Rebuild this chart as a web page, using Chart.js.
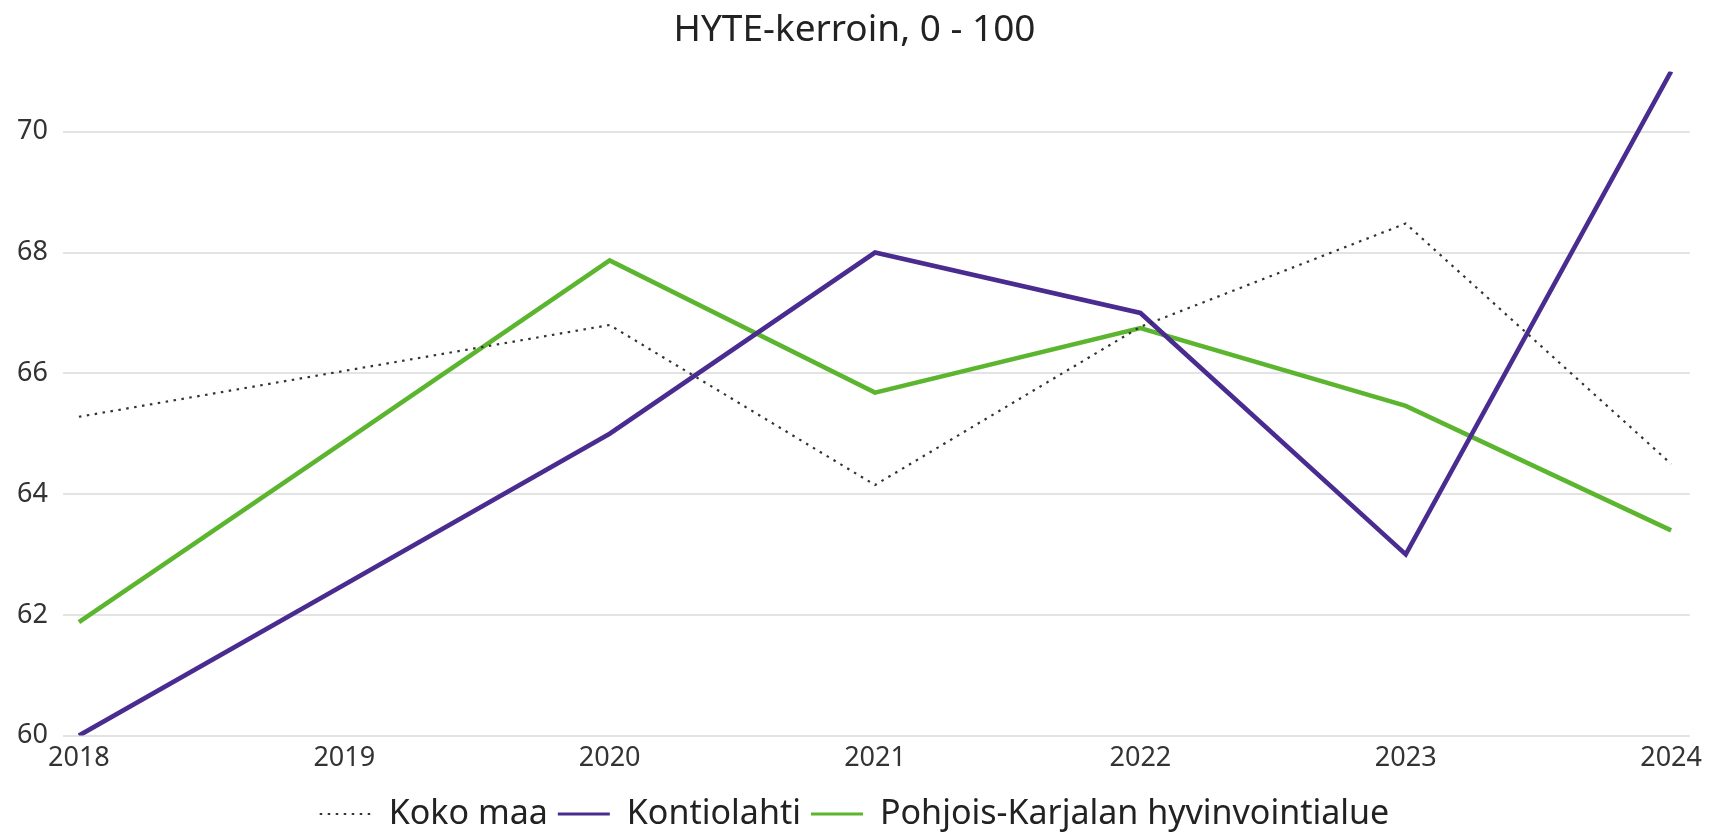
<!DOCTYPE html>
<html>
<head>
<meta charset="utf-8">
<script src="https://cdn.jsdelivr.net/npm/chart.js@4"></script>
<style>
  html, body { margin: 0; padding: 0; background: #fff; }
  .wrap { width: 1709px; height: 835px; position: relative; }
</style>
</head>
<body>
<div class="wrap"><canvas id="hyteChart"></canvas></div>
<script>
// data
const years = [2018, 2019, 2020, 2021, 2022, 2023, 2024];
const kokoMaa = [65.28, 66.04, 66.8, 64.15, 66.77, 68.48, 64.5];
const kontiolahti = [60.0, 62.5, 65.0, 68.0, 67.0, 63.0, 71.0];
const pohjoisKarjala = [61.88, 64.87, 67.87, 65.68, 66.75, 65.46, 63.4];
const yTicks = [60, 62, 64, 66, 68, 70];

const FONT = "'Noto Sans', 'Open Sans', sans-serif";

function toPoints(values) {
    return years.map((y, i) => ({ x: y, y: values[i] }));
}

document.addEventListener('DOMContentLoaded', function() {
    const ctx = document.getElementById('hyteChart').getContext('2d');
    new Chart(ctx, {
        type: 'line',
        data: {
            datasets: [
                {
                    label: 'Koko maa',
                    data: toPoints(kokoMaa),
                    borderColor: '#333333',
                    backgroundColor: '#333333',
                    borderWidth: 2.2,
                    borderDash: [2.5, 5.5],
                    pointStyle: 'line'
                },
                {
                    label: 'Kontiolahti',
                    data: toPoints(kontiolahti),
                    borderColor: '#4a2c90',
                    backgroundColor: '#4a2c90',
                    borderWidth: 4.6,
                    pointStyle: 'line'
                },
                {
                    label: 'Pohjois-Karjalan hyvinvointialue',
                    data: toPoints(pohjoisKarjala),
                    borderColor: '#5cb52f',
                    backgroundColor: '#5cb52f',
                    borderWidth: 4.6,
                    pointStyle: 'line'
                }
            ]
        },
        options: {
            responsive: true,
            maintainAspectRatio: false,
            animation: false,
            devicePixelRatio: 1,
            elements: { point: { radius: 0, hoverRadius: 0 }, line: { tension: 0 } },
            layout: { padding: { left: 0, right: 0, top: 0, bottom: -6 } },
            scales: {
                x: {
                    type: 'linear',
                    min: 2017.94,
                    max: 2024.07,
                    afterBuildTicks: function(scale) {
                        scale.ticks = years.map(v => ({ value: v }));
                    },
                    afterFit: function(scale) { scale.height += 5; },
                    grid: { display: false, drawTicks: false },
                    border: { display: false },
                    ticks: {
                        color: '#333',
                        font: { family: FONT, size: 27 },
                        padding: 7,
                        maxRotation: 0,
                        autoSkip: false,
                        callback: v => String(v)
                    }
                },
                y: {
                    min: 60,
                    max: 71,
                    afterBuildTicks: function(scale) {
                        scale.ticks = yTicks.map(v => ({ value: v }));
                    },
                    afterFit: function(scale) { scale.width = 63; },
                    grid: { color: '#e3e3e3', lineWidth: 2, drawTicks: false },
                    border: { display: false },
                    ticks: {
                        color: '#333',
                        font: { family: FONT, size: 27 },
                        padding: 15
                    }
                }
            },
            plugins: {
                title: {
                    display: true,
                    text: 'HYTE-kerroin, 0 - 100',
                    color: '#222',
                    font: { family: FONT, size: 37, weight: 'normal' },
                    padding: { top: 8, bottom: 19 }
                },
                legend: {
                    position: 'bottom',
                    labels: {
                        usePointStyle: true,
                        pointStyleWidth: 52,
                        boxWidth: 52,
                        boxHeight: 10,
                        color: '#222',
                        font: { family: FONT, size: 34 },
                        padding: 10,
                        generateLabels: function(chart) {
                            return chart.data.datasets.map((ds, i) => ({
                                text: ds.label,
                                datasetIndex: i,
                                fillStyle: ds.borderColor,
                                strokeStyle: ds.borderColor,
                                fontColor: '#222',
                                lineWidth: i === 0 ? 2 : 3,
                                lineDash: ds.borderDash || [],
                                pointStyle: 'line',
                                hidden: false
                            }));
                        }
                    }
                },
                tooltip: { enabled: false }
            }
        }
    });
});
</script>
</body>
</html>
